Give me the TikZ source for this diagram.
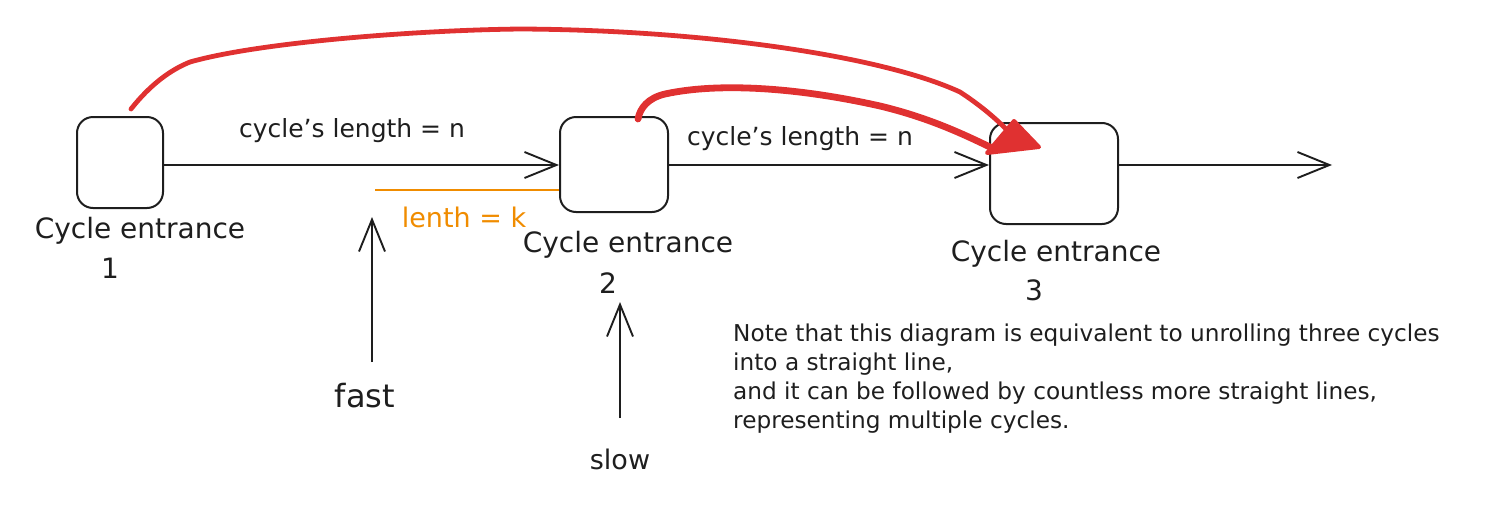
\documentclass[tikz,border=0pt]{standalone}
\usepackage{fontspec}
\setmainfont{DejaVu Sans}
\usetikzlibrary{arrows.meta,calc}
\definecolor{redink}{HTML}{E03131}
\definecolor{orangeink}{HTML}{F08C00}
\definecolor{ink}{HTML}{1E1E1E}
\begin{document}
\begin{tikzpicture}[x=1pt,y=-1pt,
  entrybox/.style={draw=ink,line width=2pt,rounded corners=16pt,minimum width=#1,inner sep=0pt},
  bigtxt/.style={font=\fontsize{28}{34}\selectfont,text=ink,inner sep=0pt},
  midtxt/.style={font=\fontsize{25}{29}\selectfont,text=ink,inner sep=0pt},
  notetxt/.style={font=\fontsize{23.2}{29}\selectfont,text=ink,inner sep=0pt,align=left},
  flow/.style={draw=ink,line width=1.9pt,-{Straight Barb[length=32pt,width=26pt,line width=1.9pt]}},
  redpath/.style={draw=redink,line width=5.5pt,line cap=round,line join=round}
]
\useasboundingbox (0,0) rectangle (1507,517);
% boxes
\node[entrybox=86pt,minimum height=91pt] (b1) at (120,162.5) {};
\node[entrybox=108pt,minimum height=95pt] (b2) at (614,164.5) {};
\node[entrybox=128pt,minimum height=101pt] (b3) at (1054,173.5) {};
\coordinate (b1r) at (b1.east |- 0,165);
\coordinate (b2l) at (b2.west |- 0,165);
\coordinate (b2r) at (b2.east |- 0,165);
\coordinate (b3l) at (b3.west |- 0,165);
\coordinate (b3r) at (b3.east |- 0,165);
\coordinate (outend) at (1332,165);
% straight arrows
\draw[flow] (b1r) -- (b2l);
\draw[flow] (b2r) -- (b3l);
\draw[flow] (b3r) -- (outend);
% labels
\node[midtxt] (len1) at (352,131) {cycle's length = n};
\node[midtxt] (len2) at (800,139) {cycle's length = n};
\node[bigtxt] (lab1) at (140,231) {Cycle entrance};
\node[bigtxt] (num1) at (110,268) {1};
\node[bigtxt] (lab2) at (628,245) {Cycle entrance};
\node[bigtxt] (num2) at (608,283) {2};
\node[bigtxt] (lab3) at (1056,254) {Cycle entrance};
\node[bigtxt] (num3) at (1034,290) {3};
% orange segment
\coordinate (ok1) at (375,190);
\coordinate (ok2) at (b2.west |- 0,190);
\draw[orangeink,line width=2.5pt] (ok1) -- (ok2);
\node[midtxt,text=orangeink,font=\fontsize{27}{30}\selectfont] (lenk) at (464,217) {lenth = k};
% fast / slow
\node[bigtxt,font=\fontsize{32}{36}\selectfont] (fast) at (365,396) {fast};
\node[bigtxt,font=\fontsize{27}{34}\selectfont] (slow) at (620,459) {slow};
\coordinate (fastbot) at (372,362);
\coordinate (fasttop) at (372,217);
\coordinate (slowbot) at (620,418);
\coordinate (slowtop) at (620,302);
\draw[flow] (fastbot) -- (fasttop);
\draw[flow] (slowbot) -- (slowtop);
% red curves
\coordinate (r1s) at (131,109);
\coordinate (r2s) at (638,119);
\draw[redpath,line width=4.8pt] (r1s) .. controls (150,85) and (170,70) .. (190,62)
  .. controls (260,42) and (420,30) .. (521,29)
  .. controls (700,30) and (880,55) .. (960,92)
  .. controls (980,105) and (995,118) .. (1005,128);
\draw[redpath,line width=6.8pt] (r2s) .. controls (640,108) and (648,98) .. (665,94)
  .. controls (720,82) and (800,88) .. (880,106)
  .. controls (930,118) and (965,135) .. (992,148);
\fill[redink,draw=redink,line width=4pt,line join=round] (1014,121) -- (1039,147) -- (987,153) -- cycle;
% note
\node[notetxt,anchor=north west] (note) at (733,324) {Note that this diagram is equivalent to unrolling three cycles\\into a straight line,\\and it can be followed by countless more straight lines,\\representing multiple cycles.};
\end{tikzpicture}
\end{document}
